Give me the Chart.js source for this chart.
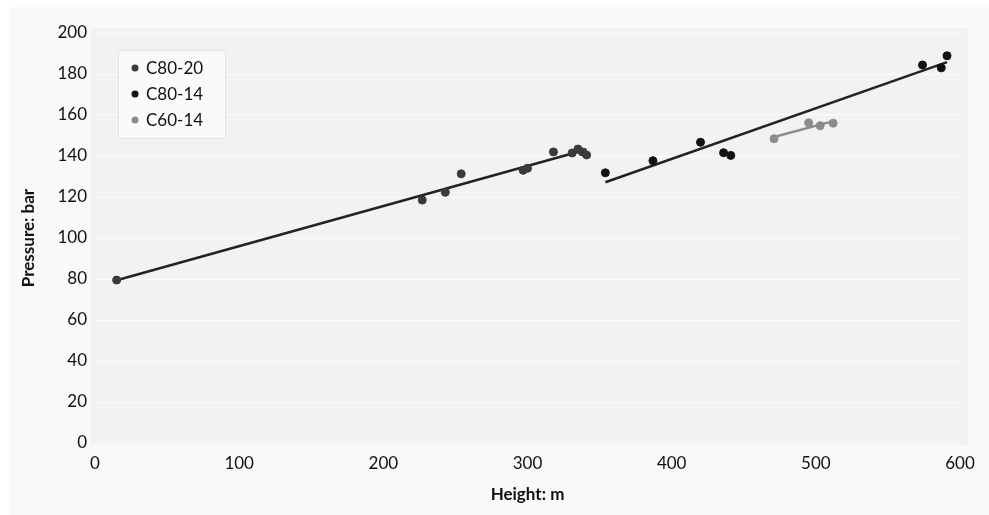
<!DOCTYPE html>
<html>
<head>
<meta charset="utf-8">
<script src="https://cdn.jsdelivr.net/npm/chart.js@4.4.1/dist/chart.umd.min.js"></script>
<style>
  html, body { margin: 0; padding: 0; background: #fff; }
  #wrap { width: 989px; height: 515px; }
</style>
</head>
<body>
<div id="wrap"><canvas id="myChart" width="989" height="515"></canvas></div>
<script>
// Data
const seriesNames = ['C80-20', 'C80-14', 'C60-14'];

const c8020X = [15, 227, 243, 254, 297, 300, 318, 331, 335, 338, 341];
const c8020Y = [79.5, 118.5, 122.3, 131.3, 133, 134, 142, 141.5, 143.4, 142, 140.5];

const c8014X = [354, 387, 420, 436, 441, 574, 587, 591];
const c8014Y = [131.8, 137.7, 146.7, 141.6, 140.3, 184.4, 183, 188.9];

const c6014X = [471, 495, 503, 512];
const c6014Y = [148.4, 156.2, 154.8, 156];

const xTicks = [0, 100, 200, 300, 400, 500, 600];
const yTicks = [0, 20, 40, 60, 80, 100, 120, 140, 160, 180, 200];

const pointColors = ['#3a3a3a', '#111111', '#8c8c8c'];
const lineColors = ['#222222', '#222222', '#8c8c8c'];

function toPoints(xs, ys) {
    return xs.map((x, i) => ({ x: x, y: ys[i] }));
}

// garis tren (regresi linear) dari data
function trendLine(xs, ys) {
    const n = xs.length;
    const mx = xs.reduce((a, b) => a + b, 0) / n;
    const my = ys.reduce((a, b) => a + b, 0) / n;
    let sxy = 0, sxx = 0;
    for (let i = 0; i < n; i++) {
        sxy += (xs[i] - mx) * (ys[i] - my);
        sxx += (xs[i] - mx) * (xs[i] - mx);
    }
    const slope = sxy / sxx;
    const x0 = Math.min(...xs), x1 = Math.max(...xs);
    return [
        { x: x0, y: my + slope * (x0 - mx) },
        { x: x1, y: my + slope * (x1 - mx) }
    ];
}

const allX = [c8020X, c8014X, c6014X];
const allY = [c8020Y, c8014Y, c6014Y];

const datasets = [];
seriesNames.forEach((name, i) => {
    datasets.push({
        label: name,
        type: 'scatter',
        data: toPoints(allX[i], allY[i]),
        backgroundColor: pointColors[i],
        borderColor: pointColors[i],
        pointRadius: 4,
        pointHoverRadius: 4,
        order: 1,
        inLegend: true
    });
});
seriesNames.forEach((name, i) => {
    datasets.push({
        label: name + ' trend',
        type: 'line',
        data: trendLine(allX[i], allY[i]),
        borderColor: lineColors[i],
        borderWidth: 2.5,
        pointRadius: 0,
        fill: false,
        order: 2,
        inLegend: false
    });
});

// latar belakang panel dan area plot
const backgroundPlugin = {
    id: 'panelBg',
    beforeDraw(chart) {
        const { ctx, chartArea } = chart;
        ctx.save();
        ctx.fillStyle = '#ffffff';
        ctx.fillRect(0, 0, chart.width, chart.height);
        ctx.fillStyle = '#f9f9f9';
        ctx.fillRect(9, 7, chart.width - 9, chart.height - 7);
        ctx.fillStyle = '#f2f2f2';
        ctx.fillRect(chartArea.left - 4, chartArea.top - 5,
            chartArea.right - chartArea.left + 12, chartArea.bottom - chartArea.top + 7);
        ctx.restore();
    }
};

// legenda dalam kotak di pojok kiri atas
const legendPlugin = {
    id: 'boxLegend',
    afterDatasetsDraw(chart) {
        const { ctx, chartArea } = chart;
        const bx = chartArea.left + 23, by = chartArea.top + 17;
        ctx.save();
        ctx.fillStyle = '#fafafa';
        ctx.strokeStyle = '#e4e4e4';
        ctx.lineWidth = 1;
        ctx.fillRect(bx, by, 107, 88);
        ctx.strokeRect(bx + 0.5, by + 0.5, 107, 88);
        ctx.font = '17px Lato';
        ctx.textBaseline = 'middle';
        let row = 0;
        chart.data.datasets.forEach(ds => {
            if (!ds.inLegend) return;
            const cy = by + 18 + row * 26;
            ctx.fillStyle = ds.backgroundColor;
            ctx.beginPath();
            ctx.arc(bx + 17, cy, 3.5, 0, Math.PI * 2);
            ctx.fill();
            ctx.fillStyle = '#111';
            ctx.fillText(ds.label, bx + 28, cy + 1);
            row++;
        });
        ctx.restore();
    }
};

const ctx = document.getElementById('myChart').getContext('2d');
const myChart = new Chart(ctx, {
    type: 'scatter',
    data: { datasets: datasets },
    plugins: [backgroundPlugin, legendPlugin],
    options: {
        responsive: false,
        animation: false,
        layout: { padding: { left: 10, top: 33, right: 29, bottom: 0 } },
        plugins: {
            legend: { display: false },
            tooltip: { enabled: false }
        },
        scales: {
            x: {
                type: 'linear',
                min: xTicks[0],
                max: xTicks[xTicks.length - 1],
                afterBuildTicks: scale => { scale.ticks = xTicks.map(v => ({ value: v })); },
                afterFit: scale => { scale.height = 72; },
                grid: { display: false, drawTicks: false },
                border: { display: false },
                ticks: { color: '#111', padding: 10, font: { family: 'Lato', size: 17 } },
                title: {
                    display: true,
                    text: 'Height: m',
                    color: '#111',
                    padding: { top: 0, bottom: 10 },
                    font: { family: 'Lato', size: 17, weight: 'bold' }
                }
            },
            y: {
                min: yTicks[0],
                max: yTicks[yTicks.length - 1],
                afterBuildTicks: scale => { scale.ticks = yTicks.map(v => ({ value: v })); },
                afterFit: scale => { scale.width = 85; },
                grid: { color: '#fbfbfb', lineWidth: 1, drawTicks: false },
                border: { display: false },
                ticks: { color: '#111', padding: 8, font: { family: 'Lato', size: 17 } },
                title: {
                    display: true,
                    text: 'Pressure: bar',
                    color: '#111',
                    padding: { top: 8, bottom: 0 },
                    font: { family: 'Lato', size: 17, weight: 'bold' }
                }
            }
        }
    }
});
</script>
</body>
</html>
